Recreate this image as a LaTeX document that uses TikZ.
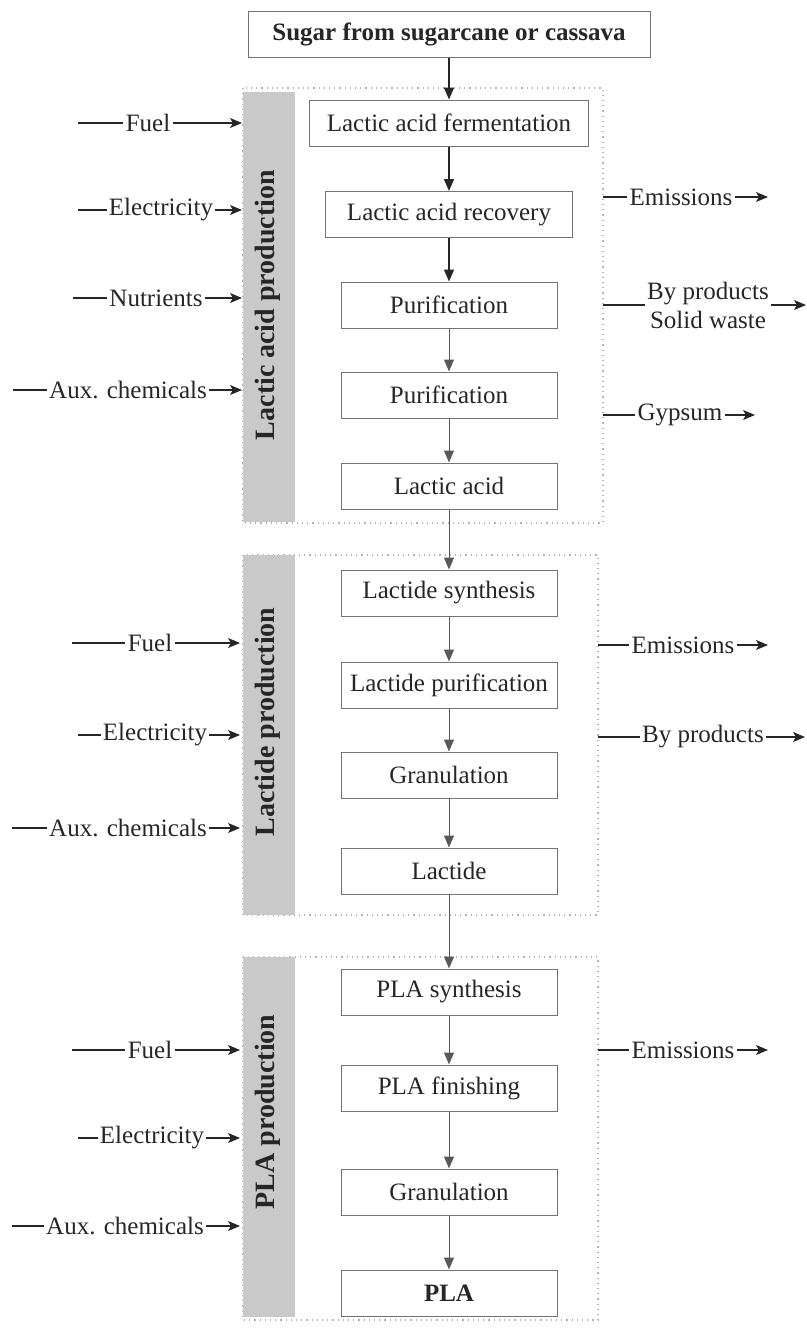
\documentclass[tikz,border=0pt]{standalone}
\usepackage{fontspec}
\setmainfont{Liberation Serif}
\usetikzlibrary{arrows.meta}

\begin{document}
\begin{tikzpicture}[x=0.5pt,y=-0.5pt,
  every node/.style={font=\fontsize{12.5}{14.5}\selectfont, text=black!85},
  stage/.style={draw=black!55, line width=0.5pt, minimum height=23pt,
    minimum width=108pt, inner sep=0pt, fill=white},
  source/.style={stage, font=\bfseries\fontsize{12.5}{14.5}\selectfont,
    minimum width=201pt},
  flowlabel/.style={inner sep=1pt},
  sectionframe/.style={draw=black!30, dotted, line width=0.6pt},
  strip/.style={fill=black!21, draw=none},
  striplabel/.style={rotate=90, font=\bfseries\fontsize{14}{16}\selectfont},
  mainflow/.style={draw=black!85, line width=0.8pt, -{Triangle[length=6pt,width=5pt]}},
  flow/.style={draw=black!65, line width=0.5pt, -{Triangle[length=6pt,width=5pt]}},
  sideflow/.style={draw=black!85, line width=0.55pt, -{Stealth[length=6pt,width=5pt,inset=1.5pt]}}
]
\useasboundingbox (0,0) rectangle (807,1334);

% ---------- section frames and shaded strips ----------
\draw[sectionframe] (243,88) rectangle (603,523);
\draw[sectionframe] (243,555) rectangle (598,915);
\draw[sectionframe] (243,957) rectangle (598,1320);
\fill[strip] (243,92) rectangle (295,522);
\fill[strip] (243,555) rectangle (295,915);
\fill[strip] (243,957) rectangle (295,1317);
\node[striplabel] (lapl) at (268,305) {Lactic acid production};
\node[striplabel] (ldpl) at (268,722) {Lactide production};
\node[striplabel] (plpl) at (268,1112) {PLA production};

% ---------- process chain ----------
\node[source] (sugar) at (449,34) {Sugar from sugarcane or cassava};

\node[stage, minimum width=139.5pt] (ferm) at (449,123) {Lactic acid fermentation};
\node[stage, minimum width=123.5pt] (recov) at (449,214.5) {Lactic acid recovery};
\node[stage] (pur1) at (449,305) {Purification};
\node[stage] (pur2) at (449,395) {Purification};
\node[stage] (lacid) at (449,486) {Lactic acid};

\node[stage] (lsyn) at (449,593) {Lactide synthesis};
\node[stage] (lpur) at (449,685) {Lactide purification};
\node[stage] (lgran) at (449,775) {Granulation};
\node[stage] (lact) at (449,871) {Lactide};

\node[stage] (psyn) at (449,992) {PLA synthesis};
\node[stage] (pfin) at (449,1088) {PLA finishing};
\node[stage] (pgran) at (449,1192) {Granulation};
\node[stage, font=\bfseries\fontsize{12.5}{14.5}\selectfont] (pla) at (449,1293) {PLA};

\draw[mainflow] (sugar) -- (ferm);
\draw[mainflow] (ferm) -- (recov);
\draw[mainflow] (recov) -- (pur1);
\draw[flow] (pur1) -- (pur2);
\draw[flow] (pur2) -- (lacid);
\draw[flow] (lacid) -- (lsyn);
\draw[flow] (lsyn) -- (lpur);
\draw[flow] (lpur) -- (lgran);
\draw[flow] (lgran) -- (lact);
\draw[flow] (lact) -- (psyn);
\draw[flow] (psyn) -- (pfin);
\draw[flow] (pfin) -- (pgran);
\draw[flow] (pgran) -- (pla);

% ---------- inputs, lactic acid production ----------
\coordinate (a1s) at (78,123);  \coordinate (a1e) at (242,123);
\node[flowlabel] (a1) at (148,123) {Fuel};
\draw[sideflow] (a1s) -- (a1) -- (a1e);
\coordinate (a2s) at (78,210);  \coordinate (a2e) at (242,210);
\node[flowlabel] (a2) at (161,210) {Electricity};
\draw[sideflow] (a2s) -- (a2) -- (a2e);
\coordinate (a3s) at (73,298);  \coordinate (a3e) at (242,298);
\node[flowlabel] (a3) at (156,298) {Nutrients};
\draw[sideflow] (a3s) -- (a3) -- (a3e);
\coordinate (a4s) at (13,390);  \coordinate (a4e) at (242,390);
\node[flowlabel] (a4) at (128,390) {Aux. chemicals};
\draw[sideflow] (a4s) -- (a4) -- (a4e);

% ---------- outputs, lactic acid production ----------
\coordinate (o1s) at (603,197); \coordinate (o1e) at (768,197);
\node[flowlabel] (o1) at (681,197) {Emissions};
\draw[sideflow] (o1s) -- (o1) -- (o1e);
\coordinate (o2s) at (603,305); \coordinate (o2e) at (806,305);
\node[flowlabel, align=center] (o2) at (708,305) {By products\\Solid waste};
\draw[sideflow] (o2s) -- (o2) -- (o2e);
\coordinate (o3s) at (603,415); \coordinate (o3e) at (755,415);
\node[flowlabel] (o3) at (680,415) {Gypsum};
\draw[sideflow] (o3s) -- (o3) -- (o3e);

% ---------- inputs, lactide production ----------
\coordinate (b1s) at (72,643);  \coordinate (b1e) at (240,643);
\node[flowlabel] (b1) at (150,643) {Fuel};
\draw[sideflow] (b1s) -- (b1) -- (b1e);
\coordinate (b2s) at (78,735);  \coordinate (b2e) at (240,735);
\node[flowlabel] (b2) at (155,735) {Electricity};
\draw[sideflow] (b2s) -- (b2) -- (b2e);
\coordinate (b3s) at (12,828);  \coordinate (b3e) at (240,828);
\node[flowlabel] (b3) at (128,828) {Aux. chemicals};
\draw[sideflow] (b3s) -- (b3) -- (b3e);

% ---------- outputs, lactide production ----------
\coordinate (p1s) at (598,645); \coordinate (p1e) at (768,645);
\node[flowlabel] (p1) at (683,645) {Emissions};
\draw[sideflow] (p1s) -- (p1) -- (p1e);
\coordinate (p2s) at (598,737); \coordinate (p2e) at (805,737);
\node[flowlabel] (p2) at (703,737) {By products};
\draw[sideflow] (p2s) -- (p2) -- (p2e);

% ---------- inputs, PLA production ----------
\coordinate (c1s) at (72,1050);  \coordinate (c1e) at (240,1050);
\node[flowlabel] (c1) at (150,1050) {Fuel};
\draw[sideflow] (c1s) -- (c1) -- (c1e);
\coordinate (c2s) at (78,1138);  \coordinate (c2e) at (240,1138);
\node[flowlabel] (c2) at (152,1138) {Electricity};
\draw[sideflow] (c2s) -- (c2) -- (c2e);
\coordinate (c3s) at (12,1226);  \coordinate (c3e) at (240,1226);
\node[flowlabel] (c3) at (125,1226) {Aux. chemicals};
\draw[sideflow] (c3s) -- (c3) -- (c3e);

% ---------- outputs, PLA production ----------
\coordinate (q1s) at (598,1050); \coordinate (q1e) at (768,1050);
\node[flowlabel] (q1) at (683,1050) {Emissions};
\draw[sideflow] (q1s) -- (q1) -- (q1e);
\end{tikzpicture}
\end{document}
